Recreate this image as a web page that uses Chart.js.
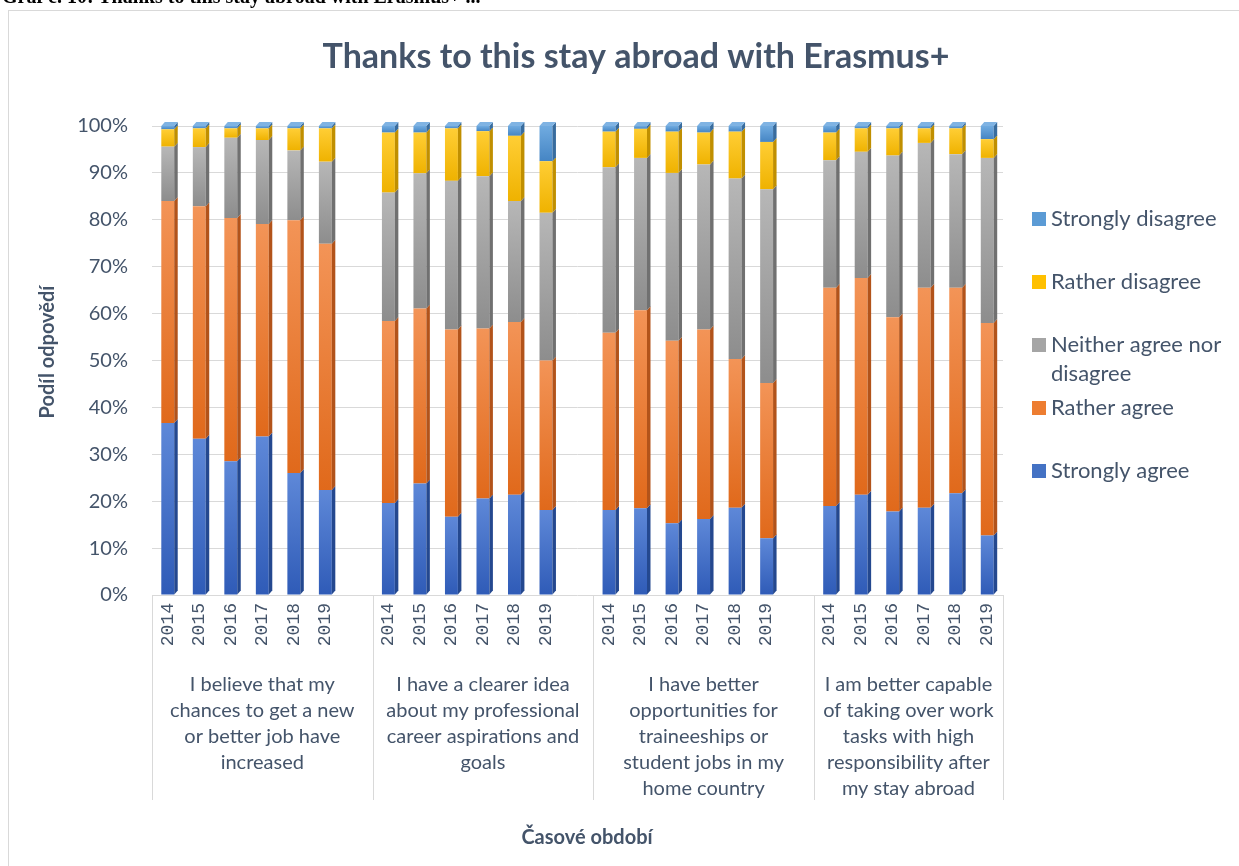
<!DOCTYPE html>
<html>
<head>
<meta charset="utf-8">
<script src="https://cdn.jsdelivr.net/npm/chart.js@4.4.1/dist/chart.umd.min.js"></script>
<style>
html,body{margin:0;padding:0;background:#fff;overflow:hidden;width:1239px;height:866px;}
#c{position:absolute;left:0;top:0;}
#frame{position:absolute;left:8px;top:10px;width:1250px;height:880px;border:1px solid #d9d9d9;box-sizing:border-box;pointer-events:none;}
#caption{position:absolute;left:2px;top:-15px;font:bold 20px "Liberation Serif",serif;color:#000;white-space:nowrap;}
</style>
</head>
<body>
<canvas id="c" width="1239" height="866"></canvas>
<div id="caption">Graf č. 10: Thanks to this stay abroad with Erasmus+ ...</div>
<div id="frame"></div>
<script>
// ---- data ----
const chartTitle = 'Thanks to this stay abroad with Erasmus+';
const xTitle = 'Časové období';
const yTitle = 'Podíl odpovědí';
const years = ['2014','2015','2016','2017','2018','2019'];
const groupLabels = [
  ['I believe that my','chances to get a new','or better job have','increased'],
  ['I have a clearer idea','about my professional','career aspirations and','goals'],
  ['I have better','opportunities for','traineeships or','student jobs in my','home country'],
  ['I am better capable','of taking over work','tasks with high','responsibility after','my stay abroad']
];
const seriesNames = ['Strongly agree','Rather agree','Neither agree nor disagree','Rather disagree','Strongly disagree'];
const stronglyAgree    = [36.7,33.3,28.5,33.8,26.0,22.4, 19.6,23.8,16.7,20.6,21.4,18.1, 18.1,18.5,15.3,16.2,18.6,12.1, 19.0,21.4,17.8,18.6,21.7,12.7];
const ratherAgree      = [47.3,49.6,51.9,45.3,53.9,52.5, 38.8,37.3,39.9,36.2,36.8,31.9, 37.8,42.2,38.9,40.4,31.7,33.1, 46.5,46.2,41.4,46.9,43.8,45.3];
const neither          = [11.6,12.6,17.1,17.9,14.9,17.5, 27.4,28.8,31.7,32.5,25.8,31.5, 35.3,32.5,35.8,35.2,38.5,41.3, 27.2,26.9,34.5,30.9,28.5,35.2];
const ratherDisagree   = [3.7,4.0,2.0,2.5,4.7,7.1, 12.8,8.7,11.2,9.6,13.9,11.0, 7.6,6.2,8.8,6.8,10.0,10.1, 5.9,5.0,5.8,3.1,5.5,4.0];
const stronglyDisagree = [0.7,0.5,0.5,0.5,0.5,0.5, 1.4,1.4,0.5,1.1,2.1,7.5, 1.2,0.6,1.2,1.4,1.2,3.4, 1.4,0.5,0.5,0.5,0.5,2.8];
const yTicks = [0,10,20,30,40,50,60,70,80,90,100];

// ---- styles ----
const palette = [
  {base:'#4472c4', top:'#5e88d8', bot:'#2f5bb7', side:'#24488f', cap:'#6f95dd'},
  {base:'#ed7d31', top:'#f39457', bot:'#e0691b', side:'#b2531a', cap:'#f5a370'},
  {base:'#a5a5a5', top:'#b7b7b7', bot:'#8d8d8d', side:'#707070', cap:'#c4c4c4'},
  {base:'#ffc000', top:'#ffce35', bot:'#efb200', side:'#c08f00', cap:'#ffd75a'},
  {base:'#5b9bd5', top:'#70abe0', bot:'#4585c4', side:'#386c9e', cap:'#7fb3e3'}
];
const TXT = '#44546a';

// build slots: 6 years per group, blank slot after groups 1-3
function expand(arr){
  const out=[];
  for(let g=0; g<groupLabels.length; g++){
    for(let k=0;k<years.length;k++) out.push(arr[g*years.length+k]);
    if(g<groupLabels.length-1) out.push(null);
  }
  return out;
}
const slotLabels = expand(years.concat(years,years,years)).map(v=>v===null?'':v);
const groupStart = [];
{ let s=0; for(let g=0; g<groupLabels.length; g++){ groupStart.push(s); s += years.length + (g<groupLabels.length-1?1:0);} groupStart.push(s); }

const rawSeries = [stronglyAgree, ratherAgree, neither, ratherDisagree, stronglyDisagree];

function gradFill(di){
  return function(ctx){
    const p = palette[di];
    const chart = ctx.chart;
    const ys = chart.scales && chart.scales.y;
    if(ctx.type!=='data' || !ys || ctx.raw==null) return p.base;
    let start=0;
    for(let k=0;k<di;k++) start += chart.data.datasets[k].data[ctx.dataIndex]||0;
    const y0 = ys.getPixelForValue(start+ctx.raw), y1 = ys.getPixelForValue(start);
    if(!isFinite(y0)||!isFinite(y1)||Math.abs(y1-y0)<0.5) return p.base;
    const g = chart.ctx.createLinearGradient(0,y0,0,y1);
    g.addColorStop(0,p.top); g.addColorStop(1,p.bot);
    return g;
  };
}

const datasets = rawSeries.map((arr,i)=>({
  label: seriesNames[i],
  data: expand(arr),
  backgroundColor: gradFill(i),
  borderWidth: 0,
  barPercentage: 0.41,
  categoryPercentage: 1.0
}));

const DX=3.5, DY=4;
const extras = {
  id:'extras',
  afterDatasetsDraw(chart){
    const ctx = chart.ctx;
    ctx.save();
    chart.data.datasets.forEach((ds,di)=>{
      const meta = chart.getDatasetMeta(di);
      meta.data.forEach((el,i)=>{
        if(ds.data[i]==null) return;
        const {x,y,base,width} = el.getProps(['x','y','base','width'],true);
        const r = x+width/2, l = x-width/2;
        ctx.fillStyle = palette[di].side;
        ctx.beginPath();
        ctx.moveTo(r,y); ctx.lineTo(r+DX,y-DY); ctx.lineTo(r+DX,base-DY); ctx.lineTo(r,base); ctx.closePath();
        ctx.fill();
        if(di===chart.data.datasets.length-1){
          ctx.fillStyle = palette[di].cap;
          ctx.beginPath();
          ctx.moveTo(l,y); ctx.lineTo(l+DX,y-DY); ctx.lineTo(r+DX,y-DY); ctx.lineTo(r,y); ctx.closePath();
          ctx.fill();
        }
      });
    });
    ctx.restore();
  },
  afterDraw(chart){
    const ctx = chart.ctx, xs = chart.scales.x, area = chart.chartArea;
    const half = (xs.getPixelForValue(1)-xs.getPixelForValue(0))/2;
    ctx.save();
    // separators
    ctx.strokeStyle = '#d9d9d9'; ctx.lineWidth = 1;
    groupStart.forEach(s=>{
      const px = Math.round(xs.getPixelForValue(s) - half) + 0.5;
      ctx.beginPath(); ctx.moveTo(px, area.bottom); ctx.lineTo(px, area.bottom+205); ctx.stroke();
    });
    // group labels
    ctx.fillStyle = TXT; ctx.textAlign='center'; ctx.textBaseline='middle';
    ctx.font = '20px Lato';
    groupLabels.forEach((lines,g)=>{
      const a = xs.getPixelForValue(groupStart[g]) - half;
      const b = xs.getPixelForValue(groupStart[g+1]) - half;
      const cx = (a+b)/2;
      lines.forEach((t,k)=> ctx.fillText(t, cx, area.bottom + 90 + k*25.8));
    });
    // titles
    ctx.font = 'bold 34px Lato';
    ctx.fillText(chartTitle, 636, 57);
    ctx.font = 'bold 20px Lato';
    ctx.fillText(xTitle, 587, 838);
    ctx.save();
    ctx.translate(48, 352); ctx.rotate(-Math.PI/2);
    ctx.fillText(yTitle, 0, 0);
    ctx.restore();
    // legend
    ctx.textAlign='left';
    ctx.font = '22px Lato';
    const order = [4,3,2,1,0];
    const legendLines = {2:['Neither agree nor','disagree']};
    order.forEach((di,k)=>{
      const cy = area.top + 93 + k*63;
      ctx.fillStyle = palette[di].base;
      ctx.fillRect(area.right + 29, cy-7, 14, 14);
      ctx.fillStyle = TXT;
      const lines = legendLines[di] || [seriesNames[di]];
      lines.forEach((t,j)=>ctx.fillText(t, area.right + 48, cy + j*29));
    });
    ctx.restore();
  }
};

Chart.defaults.color = TXT;
Chart.defaults.font.family = 'Lato';

new Chart(document.getElementById('c'), {
  type:'bar',
  data:{ labels: slotLabels, datasets },
  plugins:[extras],
  options:{
    responsive:false,
    devicePixelRatio:1,
    animation:false,
    layout:{ padding:{left:0, right:236, top:126, bottom:0} },
    plugins:{
      legend:{display:false},
      tooltip:{enabled:false},
      title:{display:false}
    },
    scales:{
      x:{
        stacked:true,
        offset:true,
        grid:{display:false, drawTicks:false},
        border:{display:false},
        ticks:{autoSkip:false, maxRotation:90, minRotation:90, padding:8, color:TXT,
               font:{family:'Liberation Mono', size:18}},
        afterFit(s){ s.height = 271; }
      },
      y:{
        stacked:true,
        min:0, max:100,
        afterBuildTicks(s){ s.ticks = yTicks.map(v=>({value:v})); },
        grid:{color:'#d9d9d9', lineWidth:1, drawTicks:false},
        border:{display:false},
        ticks:{padding:24, color:TXT, font:{family:'Lato', size:20},
               callback:(v)=>v+'%'},
        afterFit(s){ s.width = 152; }
      }
    }
  }
});
</script>
</body>
</html>
